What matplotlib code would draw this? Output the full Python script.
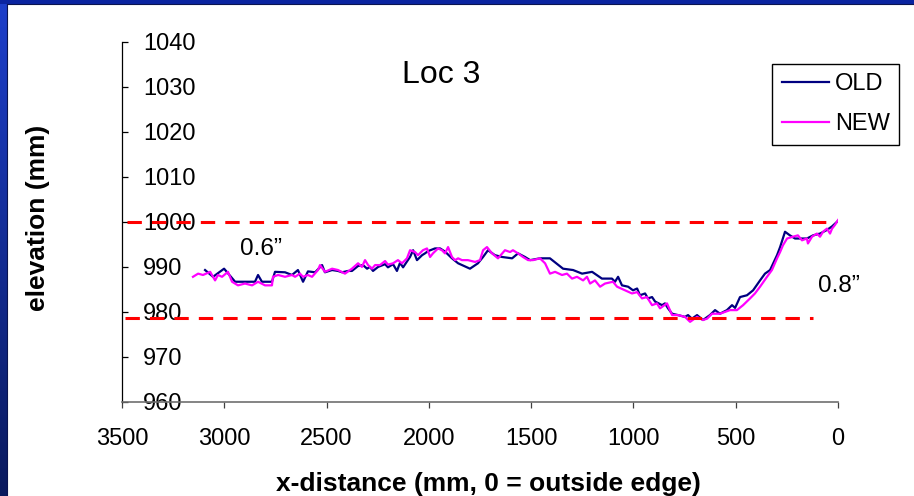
import numpy as np
import matplotlib
matplotlib.use("Agg")
import matplotlib.pyplot as plt
from matplotlib.colors import LinearSegmentedColormap

plt.rcParams['font.family'] = ['Liberation Sans', 'DejaVu Sans']

# ---- data ----
old_x = [3094, 3055, 3001, 2947, 2850, 2835, 2816, 2767, 2752, 2703, 2669, 2640, 2615,
         2591, 2556, 2522, 2508, 2473, 2444, 2424, 2395, 2376, 2346, 2322, 2302, 2288,
         2273, 2248, 2214, 2200, 2175, 2156, 2141, 2126, 2107, 2092, 2077, 2058, 2033,
         2019, 2004, 1970, 1945, 1921, 1887, 1857, 1799, 1760, 1735, 1711, 1677, 1642,
         1593, 1564, 1530, 1505, 1457, 1408, 1344, 1295, 1251, 1202, 1154, 1105, 1090,
         1075, 1056, 1026, 1002, 982, 968, 943, 929, 909, 894, 860, 846, 831, 811, 782,
         748, 733, 714, 689, 660, 626, 601, 577, 543, 518, 503, 479, 445, 415, 381, 357,
         332, 298, 283, 259, 235, 210, 152, 122, 88, 54, 29, 5]
old_y = [989.3, 987.8, 989.6, 986.7, 986.7, 988.2, 986.7, 986.7, 988.9, 988.8, 988.2, 989.3, 986.7,
         989.0, 988.8, 990.4, 988.8, 989.3, 989.1, 988.8, 989.1, 989.1, 990.2, 990.4, 989.6, 990.0,
         989.1, 990.0, 990.6, 989.9, 990.6, 989.1, 990.9, 989.9, 991.2, 992.2, 993.7, 991.5, 992.6,
         993.0, 993.5, 994.1, 994.1, 993.4, 991.9, 990.8, 989.6, 990.8, 992.2, 993.7, 992.6, 992.2,
         991.9, 993.0, 992.2, 991.5, 991.9, 991.9, 989.6, 989.3, 988.5, 988.9, 987.4, 987.4, 986.7,
         987.8, 985.9, 985.6, 984.8, 985.2, 983.7, 984.1, 983.0, 983.3, 982.3, 981.5, 981.9, 980.8,
         979.6, 979.3, 978.9, 979.3, 978.5, 979.3, 978.2, 979.3, 980.4, 979.6, 980.4, 981.5, 980.9,
         983.3, 983.7, 984.8, 987.0, 988.5, 989.3, 992.6, 994.4, 997.8, 997.0, 996.3, 996.3, 997.0,
         997.4, 998.2, 999.0, 1000.0]

new_x = [3153, 3128, 3104, 3069, 3045, 3031, 3011, 2982, 2962, 2933, 2899, 2864, 2835,
         2801, 2767, 2762, 2737, 2703, 2669, 2654, 2630, 2615, 2591, 2571, 2542, 2532,
         2508, 2473, 2444, 2410, 2376, 2346, 2327, 2312, 2297, 2278, 2263, 2239, 2214,
         2200, 2175, 2151, 2131, 2107, 2092, 2068, 2053, 2029, 2009, 1994, 1980, 1955,
         1936, 1921, 1906, 1887, 1872, 1857, 1838, 1809, 1774, 1750, 1735, 1716, 1691,
         1662, 1628, 1603, 1589, 1564, 1540, 1515, 1491, 1457, 1432, 1408, 1383, 1349,
         1325, 1300, 1276, 1246, 1227, 1212, 1188, 1163, 1139, 1100, 1080, 1041, 1007,
         982, 958, 934, 909, 885, 870, 836, 811, 782, 748, 723, 689, 660, 640, 616, 577,
         528, 494, 464, 430, 406, 381, 347, 323, 298, 283, 269, 249, 220, 196, 176, 152,
         147, 127, 103, 88, 73, 54, 39, 29, 15, 0]
new_y = [987.8, 988.5, 988.2, 988.9, 987.0, 988.2, 987.8, 988.9, 986.7, 985.9, 986.3, 985.9, 986.7,
         985.9, 985.9, 987.8, 988.2, 987.8, 988.2, 987.8, 988.5, 987.8, 988.2, 987.8, 989.3, 990.4,
         988.9, 989.6, 989.3, 988.5, 989.6, 990.8, 990.0, 991.5, 990.4, 989.6, 990.4, 990.4, 991.3,
         990.5, 990.8, 991.5, 990.8, 991.9, 993.7, 993.3, 992.6, 993.7, 994.1, 992.2, 993.0, 994.1,
         993.7, 993.0, 994.4, 992.2, 991.5, 991.9, 991.5, 991.5, 991.1, 991.5, 993.7, 994.4, 993.0,
         991.9, 993.7, 993.3, 993.7, 993.0, 992.2, 991.5, 991.5, 991.9, 990.8, 988.5, 988.9, 988.2,
         988.5, 987.4, 987.8, 987.0, 987.8, 986.3, 987.0, 985.6, 986.3, 986.7, 985.6, 984.8, 984.1,
         984.4, 983.0, 983.3, 981.5, 981.9, 980.8, 981.9, 979.3, 979.3, 978.9, 977.8, 978.9, 978.2, 978.5, 979.6, 979.6,
         980.4, 980.4, 981.5, 983.0, 984.1, 985.6, 987.8, 989.3, 991.9, 993.3, 994.8, 996.3, 996.7, 997.0, 995.9, 996.3,
         995.2, 996.7, 997.4, 996.7, 997.8, 998.5, 997.4, 998.5, 999.3, 1000.4]

x_ticks = [3500, 3000, 2500, 2000, 1500, 1000, 500, 0]
y_ticks = [960, 970, 980, 990, 1000, 1010, 1020, 1030, 1040]
upper_ref = 1000.0
lower_ref = 978.7

W, H = 914, 496
fig = plt.figure(figsize=(W / 100, H / 100), dpi=100)
fig.patch.set_facecolor('white')

# blue frame (left bar with gradient and top bar)
frame_ax = fig.add_axes([0, 0, 1, 1], zorder=-5)
frame_ax.set_xlim(0, W)
frame_ax.set_ylim(H, 0)
frame_ax.axis('off')
grad = np.linspace(0, 1, 256).reshape(-1, 1)
cmap = LinearSegmentedColormap.from_list('frame', ['#1d3fcb', '#0a1a5e'])
frame_ax.imshow(grad, cmap=cmap, extent=[0, 7, H, 0], aspect='auto')
frame_ax.add_patch(plt.Rectangle((0, 0), W, 3.5, color='#0a24a0', lw=0))
frame_ax.plot([7, 7], [3.5, H], color='#0a1450', lw=0.8)
frame_ax.plot([7, W], [3.5, 3.5], color='#0a1450', lw=0.8)

ax = fig.add_axes([122 / W, 1 - 402 / H, (838 - 122) / W, (402 - 41.7) / H])
ax.set_facecolor('none')
ax.plot(old_x, old_y, color='#000080', lw=1.6, label='OLD', zorder=3)
ax.plot(new_x, new_y, color='#FF00FF', lw=1.6, label='NEW', zorder=4)

ax.hlines(upper_ref, 3475, 50, colors='#ff0000', linestyles=(0, (4.7, 3.3)), lw=2.2, zorder=5)
ax.hlines(lower_ref, 3485, 120, colors='#ff0000', linestyles=(0, (4.7, 3.3)), lw=2.2, zorder=5)

ax.set_xlim(3500, 0)
ax.set_ylim(960, 1040)
ax.set_xticks(x_ticks)
ax.set_xticklabels([str(v) for v in x_ticks])
ax.set_yticks(y_ticks)
ax.set_yticklabels([str(v) for v in y_ticks])

for s in ['top', 'right']:
    ax.spines[s].set_visible(False)
ax.spines['left'].set_color('black')
ax.spines['left'].set_linewidth(0.9)
ax.spines['bottom'].set_color('#707070')
ax.spines['bottom'].set_linewidth(1.2)

ax.tick_params(axis='y', direction='in', length=4.5, width=0.9, pad=-15, labelsize=17)
for lab in ax.get_yticklabels():
    lab.set_horizontalalignment('left')
ax.tick_params(axis='x', direction='out', length=4.5, width=0.9, color='#404040', pad=14, labelsize=17)

fig.text(38 / W, 1 - 218 / H, 'elevation (mm)', rotation=90, ha='center', va='center',
         fontsize=19, fontweight='bold')
fig.text(488 / W, 1 - 484 / H, 'x-distance (mm, 0 = outside edge)', ha='center', va='center',
         fontsize=19, fontweight='bold')

fig.text(402 / W, 1 - 75 / H, 'Loc 3', ha='left', va='center', fontsize=23)
fig.text(240 / W, 1 - 249 / H, '0.6\u201d', ha='left', va='center', fontsize=17.5)
fig.text(818 / W, 1 - 286 / H, '0.8\u201d', ha='left', va='center', fontsize=17.5)

leg = ax.legend(loc='upper right', bbox_to_anchor=(899 / W, 1 - 64 / H),
                bbox_transform=fig.transFigure, fontsize=17, frameon=True, fancybox=False,
                shadow=False, framealpha=1, edgecolor='black', handlelength=2.0,
                handletextpad=0.25, labelspacing=0.75, borderpad=0.4, borderaxespad=0)
leg.get_frame().set_linewidth(1.0)

fig.savefig('out.png', dpi=100, facecolor=fig.get_facecolor())
